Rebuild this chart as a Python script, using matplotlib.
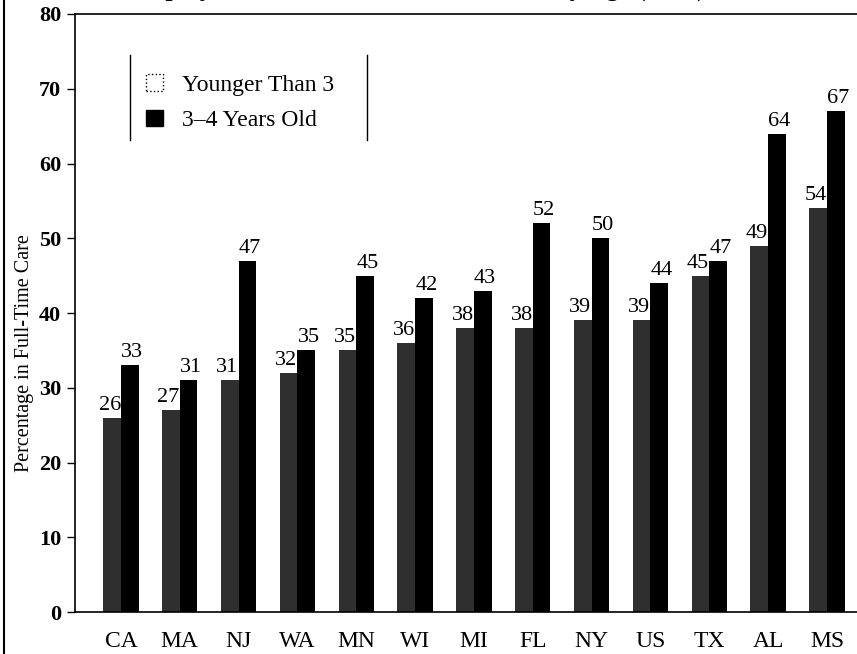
import numpy as np
import matplotlib
matplotlib.use("Agg")
import matplotlib.pyplot as plt
from matplotlib.patches import Patch
from matplotlib.lines import Line2D

plt.rcParams['font.family'] = ['Liberation Serif', 'DejaVu Serif']

states = ["CA", "MA", "NJ", "WA", "MN", "WI", "MI", "FL", "NY", "US", "TX", "AL", "MS"]
younger_than_3 = [26, 27, 31, 32, 35, 36, 38, 38, 39, 39, 45, 49, 54]
age_3_to_4 = [33, 31, 47, 35, 45, 42, 43, 52, 50, 44, 47, 64, 67]
series_names = ["Younger Than 3", "3\u20134 Years Old"]
y_ticks = [0, 10, 20, 30, 40, 50, 60, 70, 80]

fig = plt.figure(figsize=(8.57, 6.54), dpi=100)
ax = fig.add_axes([0.0875, 0.0642, 0.9125, 0.9144])

x = np.arange(len(states))
w = 0.30
ax.bar(x - w / 2, younger_than_3, width=w, color='#2f2f2f', linewidth=0)
ax.bar(x + w / 2, age_3_to_4, width=w, color='#000000', linewidth=0)

for xi, v in zip(x, younger_than_3):
    ax.text(xi - w / 2 - 0.04, v + 0.4, f"{v}", ha='center', va='bottom', fontsize=16)
for xi, v in zip(x, age_3_to_4):
    ax.text(xi + w / 2 + 0.04, v + 0.4, f"{v}", ha='center', va='bottom', fontsize=16)

ax.set_xlim(-0.78, 12.51)
ax.set_ylim(0, 80)
ax.set_yticks(y_ticks)
ax.set_yticklabels([str(t) for t in y_ticks], fontsize=16, fontweight='bold')
ax.set_xticks(x)
ax.set_xticklabels(states, fontsize=17)
ax.tick_params(axis='x', length=0, pad=14)
ax.tick_params(axis='y', length=6, width=1.0, direction='out', pad=4)

ax.spines['right'].set_visible(False)
for s in ('left', 'top', 'bottom'):
    ax.spines[s].set_linewidth(1.2)

ax.set_ylabel("Percentage in Full-Time Care", fontsize=14.5)
ax.yaxis.set_label_coords(-0.052, 0.433)

# legend with open square for the younger group
handles = [Patch(facecolor='white', edgecolor='black', linestyle=':', linewidth=1.0),
           Patch(facecolor='black', edgecolor='black')]
ax.legend(handles, series_names, loc='upper left', bbox_to_anchor=(0.064, 0.935),
          frameon=False, fontsize=17, handlelength=0.7, handleheight=0.7,
          handletextpad=0.8, labelspacing=0.6)

# side rules of the legend box
ax.plot([0.0703, 0.0703], [0.789, 0.931], transform=ax.transAxes, color='black', lw=1.0, clip_on=False)
ax.plot([0.373, 0.373], [0.789, 0.931], transform=ax.transAxes, color='black', lw=1.0, clip_on=False)

# page rule on the left
fig.add_artist(Line2D([0.005, 0.005], [0, 1], transform=fig.transFigure, color='black', lw=1.5))

# heading, running off the top edge
fig.text(706 / 857, 1 + 4.5 / 654, "Children of Employed Mothers in Full-Time Care, by Age (1997)",
         ha='right', va='baseline', fontsize=18.5, fontweight='bold')

fig.savefig("out.png", dpi=100)
